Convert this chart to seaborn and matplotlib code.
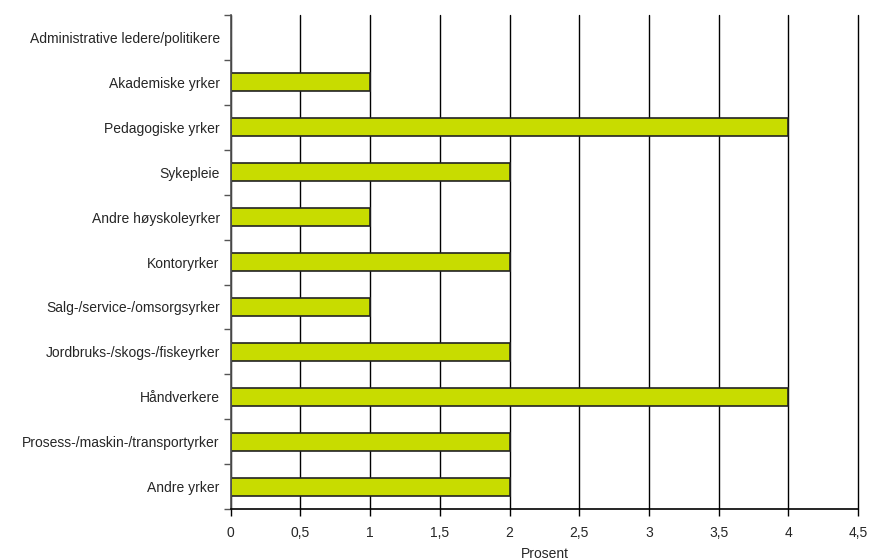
import matplotlib
matplotlib.use("Agg")
import matplotlib.pyplot as plt
import matplotlib.ticker as mticker
import seaborn as sns
import pandas as pd

categories = [
    "Administrative ledere/politikere",
    "Akademiske yrker",
    "Pedagogiske yrker",
    "Sykepleie",
    "Andre høyskoleyrker",
    "Kontoryrker",
    "Salg-/service-/omsorgsyrker",
    "Jordbruks-/skogs-/fiskeyrker",
    "Håndverkere",
    "Prosess-/maskin-/transportyrker",
    "Andre yrker",
]
values = [0, 1, 4, 2, 1, 2, 1, 2, 4, 2, 2]
x_ticks = [0, 0.5, 1, 1.5, 2, 2.5, 3, 3.5, 4, 4.5]
x_tick_labels = ["0", "0,5", "1", "1,5", "2", "2,5", "3", "3,5", "4", "4,5"]

df = pd.DataFrame({"yrke": categories, "prosent": values})

sns.set_style("white")
plt.rcParams["font.family"] = ["Liberation Sans", "DejaVu Sans"]

fig = plt.figure(figsize=(8.71, 5.60), dpi=100)
ax = fig.add_axes([0.265, 0.091, 0.72, 0.882])

sns.barplot(data=df, x="prosent", y="yrke", orient="h", color="#c8dc00",
            edgecolor="#222222", linewidth=1.2, width=0.4, saturation=1, ax=ax)

ax.set_xlim(0, 4.5)
ax.set_ylim(10.5, -0.5)
ax.set_xticks(x_ticks)
ax.set_xticklabels(x_tick_labels, fontsize=10, va="baseline")
ax.tick_params(axis="y", labelsize=10, which="major", length=0, pad=8)
ax.yaxis.set_minor_locator(mticker.FixedLocator([i - 0.5 for i in range(len(categories) + 1)]))
ax.tick_params(axis="y", which="minor", length=5, width=1, color="#555555", direction="out", left=True)
ax.tick_params(axis="x", length=5, width=1, color="black", direction="out", bottom=True, pad=15)

ax.xaxis.grid(True, color="black", linewidth=1)
ax.yaxis.grid(False)
ax.set_axisbelow(True)
for gl in ax.get_xgridlines():
    gl.set_clip_on(False)

for side in ["top", "right"]:
    ax.spines[side].set_visible(False)
ax.spines["left"].set_color("#555555")
ax.spines["left"].set_linewidth(1.2)
ax.spines["bottom"].set_color("black")
ax.spines["bottom"].set_linewidth(1.2)

ax.set_ylabel("")
ax.set_xlabel("Prosent", fontsize=10, labelpad=5)

fig.savefig("out.png", dpi=100)
